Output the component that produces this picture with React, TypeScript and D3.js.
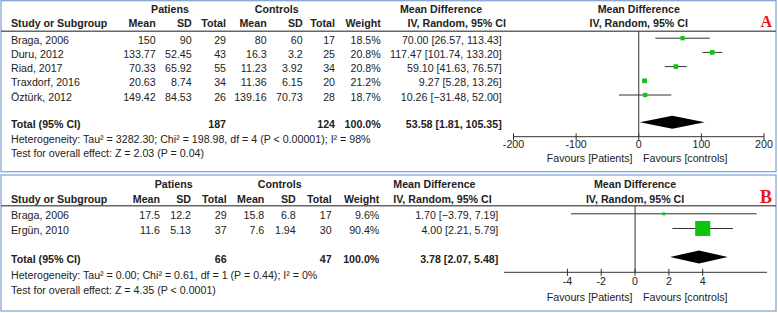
import React from "react";
import * as d3 from "d3";

// ---------- Panel A data ----------
const studiesA = ["Braga, 2006", "Duru, 2012", "Riad, 2017", "Traxdorf, 2016", "Öztürk, 2012"];
const patMeanA = ["150", "133.77", "70.33", "20.63", "149.42"];
const patSDA = ["90", "52.45", "65.92", "8.74", "84.53"];
const patTotalA = [29, 43, 55, 34, 26];
const ctlMeanA = ["80", "16.3", "11.23", "11.36", "139.16"];
const ctlSDA = ["60", "3.2", "3.92", "6.15", "70.73"];
const ctlTotalA = [17, 25, 34, 20, 28];
const weightA = [18.5, 20.8, 20.8, 21.2, 18.7];
const mdA = [70.0, 117.47, 59.1, 9.27, 10.26];
const loA = [26.57, 101.74, 41.63, 5.28, -31.48];
const hiA = [113.43, 133.2, 76.57, 13.26, 52.0];
const totalA = { pat: 187, ctl: 124, md: 53.58, lo: 1.81, hi: 105.35 };
const hetA = "Heterogeneity: Tau² = 3282.30; Chi² = 198.98, df = 4 (P < 0.00001); I² = 98%";
const testA = "Test for overall effect: Z = 2.03 (P = 0.04)";
const ticksA = [-200, -100, 0, 100, 200];

// ---------- Panel B data ----------
const studiesB = ["Braga, 2006", "Ergün, 2010"];
const patMeanB = ["17.5", "11.6"];
const patSDB = ["12.2", "5.13"];
const patTotalB = [29, 37];
const ctlMeanB = ["15.8", "7.6"];
const ctlSDB = ["6.8", "1.94"];
const ctlTotalB = [17, 30];
const weightB = [9.6, 90.4];
const mdB = [1.7, 4.0];
const loB = [-3.79, 2.21];
const hiB = [7.19, 5.79];
const totalB = { pat: 66, ctl: 47, md: 3.78, lo: 2.07, hi: 5.48 };
const hetB = "Heterogeneity: Tau² = 0.00; Chi² = 0.61, df = 1 (P = 0.44); I² = 0%";
const testB = "Test for overall effect: Z = 4.35 (P < 0.0001)";
const ticksB = [-4, -2, 0, 2, 4];

const FONT = "'Liberation Sans', Arial, sans-serif";
const TXT = "#222";
const FS = 10.65;

type PanelProps = {
  top: number;
  height: number;
  letter: string;
  letterSize: number;
  studies: string[];
  patMean: string[];
  patSD: string[];
  patTotal: number[];
  ctlMean: string[];
  ctlSD: string[];
  ctlTotal: number[];
  weight: number[];
  md: number[];
  lo: number[];
  hi: number[];
  total: { pat: number; ctl: number; md: number; lo: number; hi: number };
  het: string;
  test: string;
  ticks: number[];
  x: d3.ScaleLinear<number, number>;
  axisExtent: [number, number];
  cols: number[]; // right edges: pMean, pSD, pTot, cMean, cSD, cTot, weight, md
  groupCenters: [number, number];
  mdHead: { x1: number; a1: string; x2: number; a2: string };
  lay: {
    grp: number; head: number; line: number; row0: number; rowStep: number;
    total: number; het: number; test: number; axis: number; tickLab: number; fav: number;
  };
};

function Panel(p: PanelProps) {
  const { top, lay, x, cols } = p;
  const fmt2 = d3.format(".2f");
  const zero = x(0);
  const rowY = (i: number) => top + lay.row0 + i * lay.rowStep;
  const size = (w: number) => 1.5 + w * 0.15;
  const ciText = (m: number, l: number, h: number) => `${fmt2(m)} [${fmt2(l)}, ${fmt2(h)}]`;
  const diamondY = top + lay.total - 5.5;
  const dh = 6.5;
  const t = p.total;
  return (
    <g fontFamily={FONT} fontSize={FS} fill={TXT}>
      <rect x={1} y={top} width={775} height={p.height} fill="#fff" stroke="#86a6d6" strokeWidth={1.3} />
      {/* header */}
      <g fontWeight="bold">
        <text x={p.groupCenters[0]} y={top + lay.grp} textAnchor="middle">Patiens</text>
        <text x={p.groupCenters[1]} y={top + lay.grp} textAnchor="middle">Controls</text>
        <text x={p.mdHead.x1} y={top + lay.grp} textAnchor={p.mdHead.a1 as any}>Mean Difference</text>
        <text x={zero} y={top + lay.grp} textAnchor="middle">Mean Difference</text>
        <text x={11} y={top + lay.head}>Study or Subgroup</text>
        {["Mean", "SD", "Total", "Mean", "SD", "Total", "Weight"].map((h, i) => (
          <text key={i} x={cols[i]} y={top + lay.head} textAnchor="end">{h}</text>
        ))}
        <text x={p.mdHead.x2} y={top + lay.head} textAnchor={p.mdHead.a2 as any}>IV, Random, 95% CI</text>
        <text x={zero} y={top + lay.head} textAnchor="middle">IV, Random, 95% CI</text>
      </g>
      <text x={772} y={top + lay.head} textAnchor="end" fontFamily="'Liberation Serif', 'Times New Roman', serif"
        fontWeight="bold" fontSize={p.letterSize} fill="#e8141b">{p.letter}</text>
      <line x1={1} x2={776} y1={top + lay.line} y2={top + lay.line} stroke="#666" strokeWidth={1.4} />
      {/* rows */}
      {p.studies.map((s, i) => {
        const y = rowY(i);
        const vals = [p.patMean[i], p.patSD[i], String(p.patTotal[i]), p.ctlMean[i], p.ctlSD[i],
          String(p.ctlTotal[i]), `${p.weight[i].toFixed(1)}%`, ciText(p.md[i], p.lo[i], p.hi[i])];
        const my = y - 5.5;
        const sz = size(p.weight[i]);
        return (
          <g key={s}>
            <text x={11} y={y}>{s}</text>
            {vals.map((v, j) => (
              <text key={j} x={cols[j]} y={y} textAnchor="end">{v}</text>
            ))}
            <line x1={x(p.lo[i])} x2={x(p.hi[i])} y1={my} y2={my} stroke="#333" strokeWidth={1} />
            <rect x={x(p.md[i]) - sz / 2} y={my - sz / 2} width={sz} height={sz} fill="#0fc40f" />
          </g>
        );
      })}
      {/* total */}
      <g fontWeight="bold">
        <text x={11} y={top + lay.total}>Total (95% CI)</text>
        <text x={cols[2]} y={top + lay.total} textAnchor="end">{t.pat}</text>
        <text x={cols[5]} y={top + lay.total} textAnchor="end">{t.ctl}</text>
        <text x={cols[6]} y={top + lay.total} textAnchor="end">100.0%</text>
        <text x={cols[7]} y={top + lay.total} textAnchor="end">{ciText(t.md, t.lo, t.hi)}</text>
      </g>
      <text x={11} y={top + lay.het}>{p.het}</text>
      <text x={11} y={top + lay.test}>{p.test}</text>
      <path
        d={`M${x(t.lo)},${diamondY} L${x(t.md)},${diamondY - dh} L${x(t.hi)},${diamondY} L${x(t.md)},${diamondY + dh} Z`}
        fill="#000"
      />
      {/* zero line and axis */}
      <line x1={zero} x2={zero} y1={top + lay.line} y2={top + lay.axis} stroke="#333" strokeWidth={1} />
      <line x1={p.axisExtent[0]} x2={p.axisExtent[1]} y1={top + lay.axis} y2={top + lay.axis} stroke="#333" strokeWidth={1} />
      {p.ticks.map((tk) => (
        <g key={tk}>
          <line x1={x(tk)} x2={x(tk)} y1={top + lay.axis - 3.5} y2={top + lay.axis + 3.5} stroke="#333" strokeWidth={1} />
          <text x={x(tk)} y={top + lay.tickLab} textAnchor="middle">{tk}</text>
        </g>
      ))}
      <text x={632.5} y={top + lay.fav} textAnchor="end">Favours [Patients]</text>
      <text x={643} y={top + lay.fav}>Favours [controls]</text>
    </g>
  );
}

export default function App() {
  const xA = d3.scaleLinear().domain([-200, 200]).range([513.5, 764]);
  const xB = d3.scaleLinear().domain([-7.75, 7.8]).range([504, 767]);
  return (
    <svg width={778} height={313} style={{ position: "absolute", left: 0, top: 0, background: "#fff" }}>
      <Panel
        top={0.7}
        height={171}
        letter="A"
        letterSize={16}
        studies={studiesA}
        patMean={patMeanA}
        patSD={patSDA}
        patTotal={patTotalA}
        ctlMean={ctlMeanA}
        ctlSD={ctlSDA}
        ctlTotal={ctlTotalA}
        weight={weightA}
        md={mdA}
        lo={loA}
        hi={hiA}
        total={totalA}
        het={hetA}
        test={testA}
        ticks={ticksA}
        x={xA}
        axisExtent={[xA(-200), xA(200)]}
        cols={[155.7, 191.7, 226, 266.7, 302.7, 335, 380.7, 501.7]}
        groupCenters={[170, 276.7]}
        mdHead={{ x1: 441, a1: "middle", x2: 456.7, a2: "middle" }}
        lay={{ grp: 12.5, head: 26.5, line: 30.5, row0: 43, rowStep: 14.2, total: 127, het: 142.3, test: 156.3, axis: 136, tickLab: 147.5, fav: 161.5 }}
      />
      <Panel
        top={175}
        height={136}
        letter="B"
        letterSize={18}
        studies={studiesB}
        patMean={patMeanB}
        patSD={patSDB}
        patTotal={patTotalB}
        ctlMean={ctlMeanB}
        ctlSD={ctlSDB}
        ctlTotal={ctlTotalB}
        weight={weightB}
        md={mdB}
        lo={loB}
        hi={hiB}
        total={totalB}
        het={hetB}
        test={testB}
        ticks={ticksB}
        x={xB}
        axisExtent={[504, 767]}
        cols={[160, 191, 226.7, 264.3, 295.7, 331.7, 379.3, 498.3]}
        groupCenters={[173.7, 279.7]}
        mdHead={{ x1: 393.3, a1: "start", x2: 393.3, a2: "start" }}
        lay={{ grp: 13, head: 27.5, line: 30.7, row0: 44.3, rowStep: 14.7, total: 87.5, het: 103.7, test: 118.7, axis: 97.3, tickLab: 110, fav: 126 }}
      />
    </svg>
  );
}
